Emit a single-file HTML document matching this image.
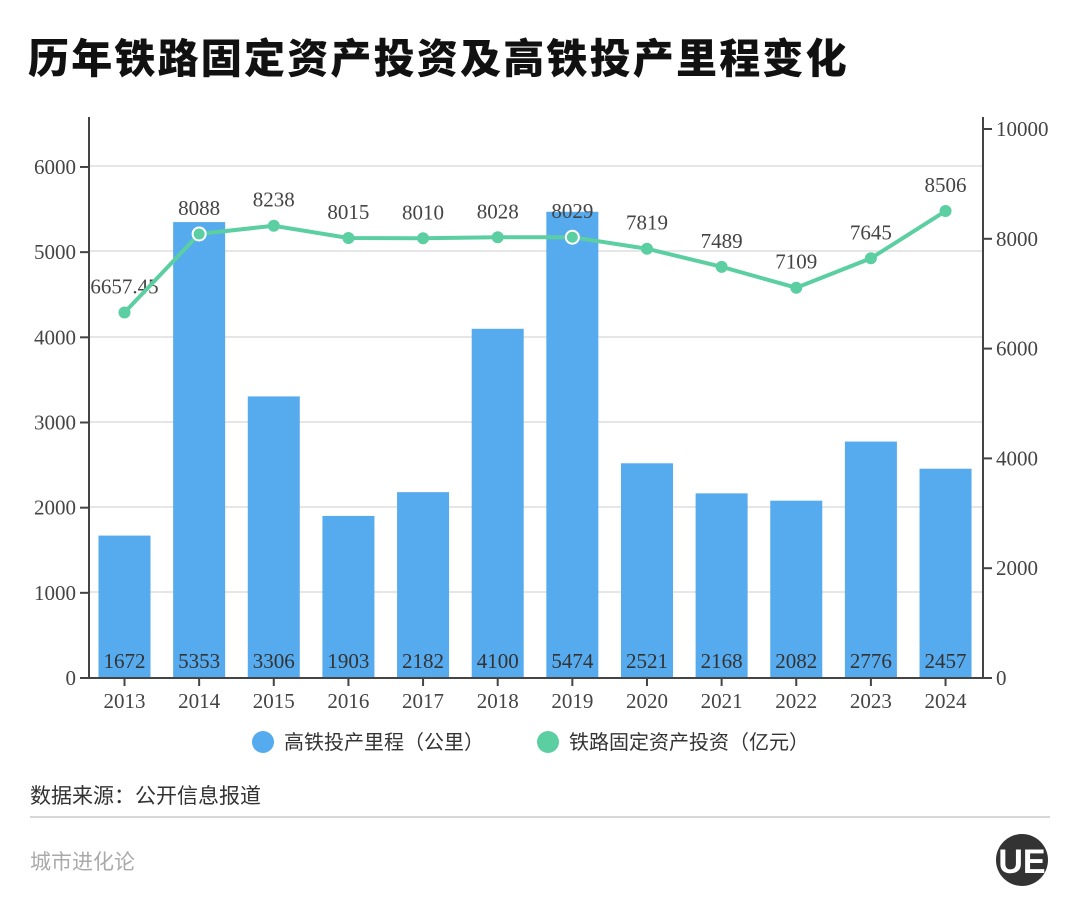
<!DOCTYPE html>
<html><head><meta charset="utf-8"><style>
body{margin:0;background:#fff;width:1080px;height:918px;overflow:hidden;font-family:"Liberation Sans","Noto Sans CJK SC",sans-serif}
</style></head><body>
<svg width="1080" height="918" xmlns="http://www.w3.org/2000/svg">
<text x="28" y="73" font-family="Noto Sans CJK SC, sans-serif" font-weight="900" font-size="41" letter-spacing="2.2" fill="#111">历年铁路固定资产投资及高铁投产里程变化</text>
<g stroke="#ddd" stroke-width="1.5">
<line x1="90" x2="982" y1="166" y2="166"/><line x1="90" x2="982" y1="251" y2="251"/><line x1="90" x2="982" y1="337" y2="337"/><line x1="90" x2="982" y1="422" y2="422"/><line x1="90" x2="982" y1="507" y2="507"/><line x1="90" x2="982" y1="592" y2="592"/>
</g>
<g fill="#56aaee" id="bars"></g>
<g stroke="#444" stroke-width="2">
<line x1="89" y1="117" x2="89" y2="679"/><line x1="983" y1="117" x2="983" y2="679"/><line x1="80" y1="678" x2="992" y2="678"/>
</g>
<g id="ticks" stroke="#444" stroke-width="2"></g>
<g font-family="Liberation Serif, serif" font-size="21" fill="#444" id="labels"></g>
<polyline id="ln" fill="none" stroke="#5ccfa2" stroke-width="4"/>
<g id="pts"></g>
<g font-family="Noto Sans CJK SC, sans-serif" font-size="20" fill="#333">
<circle cx="263" cy="742" r="11" fill="#56aaee"/><text x="284" y="749">高铁投产里程（公里）</text>
<circle cx="548" cy="742" r="11" fill="#5ccfa2"/><text x="569" y="749">铁路固定资产投资（亿元）</text>
<text x="30" y="803" font-size="21">数据来源：公开信息报道</text>
<text x="30" y="869" font-size="21" fill="#aaa">城市进化论</text>
</g>
<line x1="30" x2="1050" y1="817" y2="817" stroke="#ccc" stroke-width="1.5"/>
<circle cx="1022" cy="860" r="26" fill="#333"/>
<text x="1022" y="873" text-anchor="middle" font-family="Liberation Sans" font-weight="bold" font-size="34" fill="#fff">UE</text>
</svg>
<script>
const yrs=[2013,2014,2015,2016,2017,2018,2019,2020,2021,2022,2023,2024];
const km=[1672,5353,3306,1903,2182,4100,5474,2521,2168,2082,2776,2457];
const inv=[6657.45,8088,8238,8015,8010,8028,8029,7819,7489,7109,7645,8506];
const ns="http://www.w3.org/2000/svg";
function el(p,t,a,txt){const e=document.createElementNS(ns,t);for(const k in a)e.setAttribute(k,a[k]);if(txt!==undefined)e.textContent=txt;document.getElementById(p).appendChild(e);return e;}
let pts=[];
yrs.forEach((y,i)=>{const cx=124.5+i*74.64;const h=km[i]*0.08517;
el("bars","rect",{x:cx-26,y:678-h,width:52,height:h});
el("ticks","line",{x1:cx,x2:cx,y1:678,y2:686});
el("labels","text",{x:cx,y:708,"text-anchor":"middle"},y);
el("labels","text",{x:cx,y:668,"text-anchor":"middle",fill:"#333"},km[i]);
const py=678-inv[i]*0.0549;pts.push(cx+","+py);
el("labels","text",{x:cx,y:py-19,"text-anchor":"middle"},inv[i]);
const inBar=(i==1||i==6);
el("pts","circle",{cx:cx,cy:py,r:inBar?6.5:6,fill:"#5ccfa2",stroke:inBar?"#fff":"none","stroke-width":2});
});
document.getElementById("ln").setAttribute("points",pts.join(" "));
for(let v=0;v<=6000;v+=1000){const y=678-v*0.08517;el("ticks","line",{x1:80,x2:89,y1:y,y2:y});el("labels","text",{x:76,y:y+7,"text-anchor":"end"},v);}
for(let v=0;v<=10000;v+=2000){const y=678-v*0.0549;el("ticks","line",{x1:983,x2:992,y1:y,y2:y});el("labels","text",{x:996,y:y+7},v);}
</script>
</body></html>
